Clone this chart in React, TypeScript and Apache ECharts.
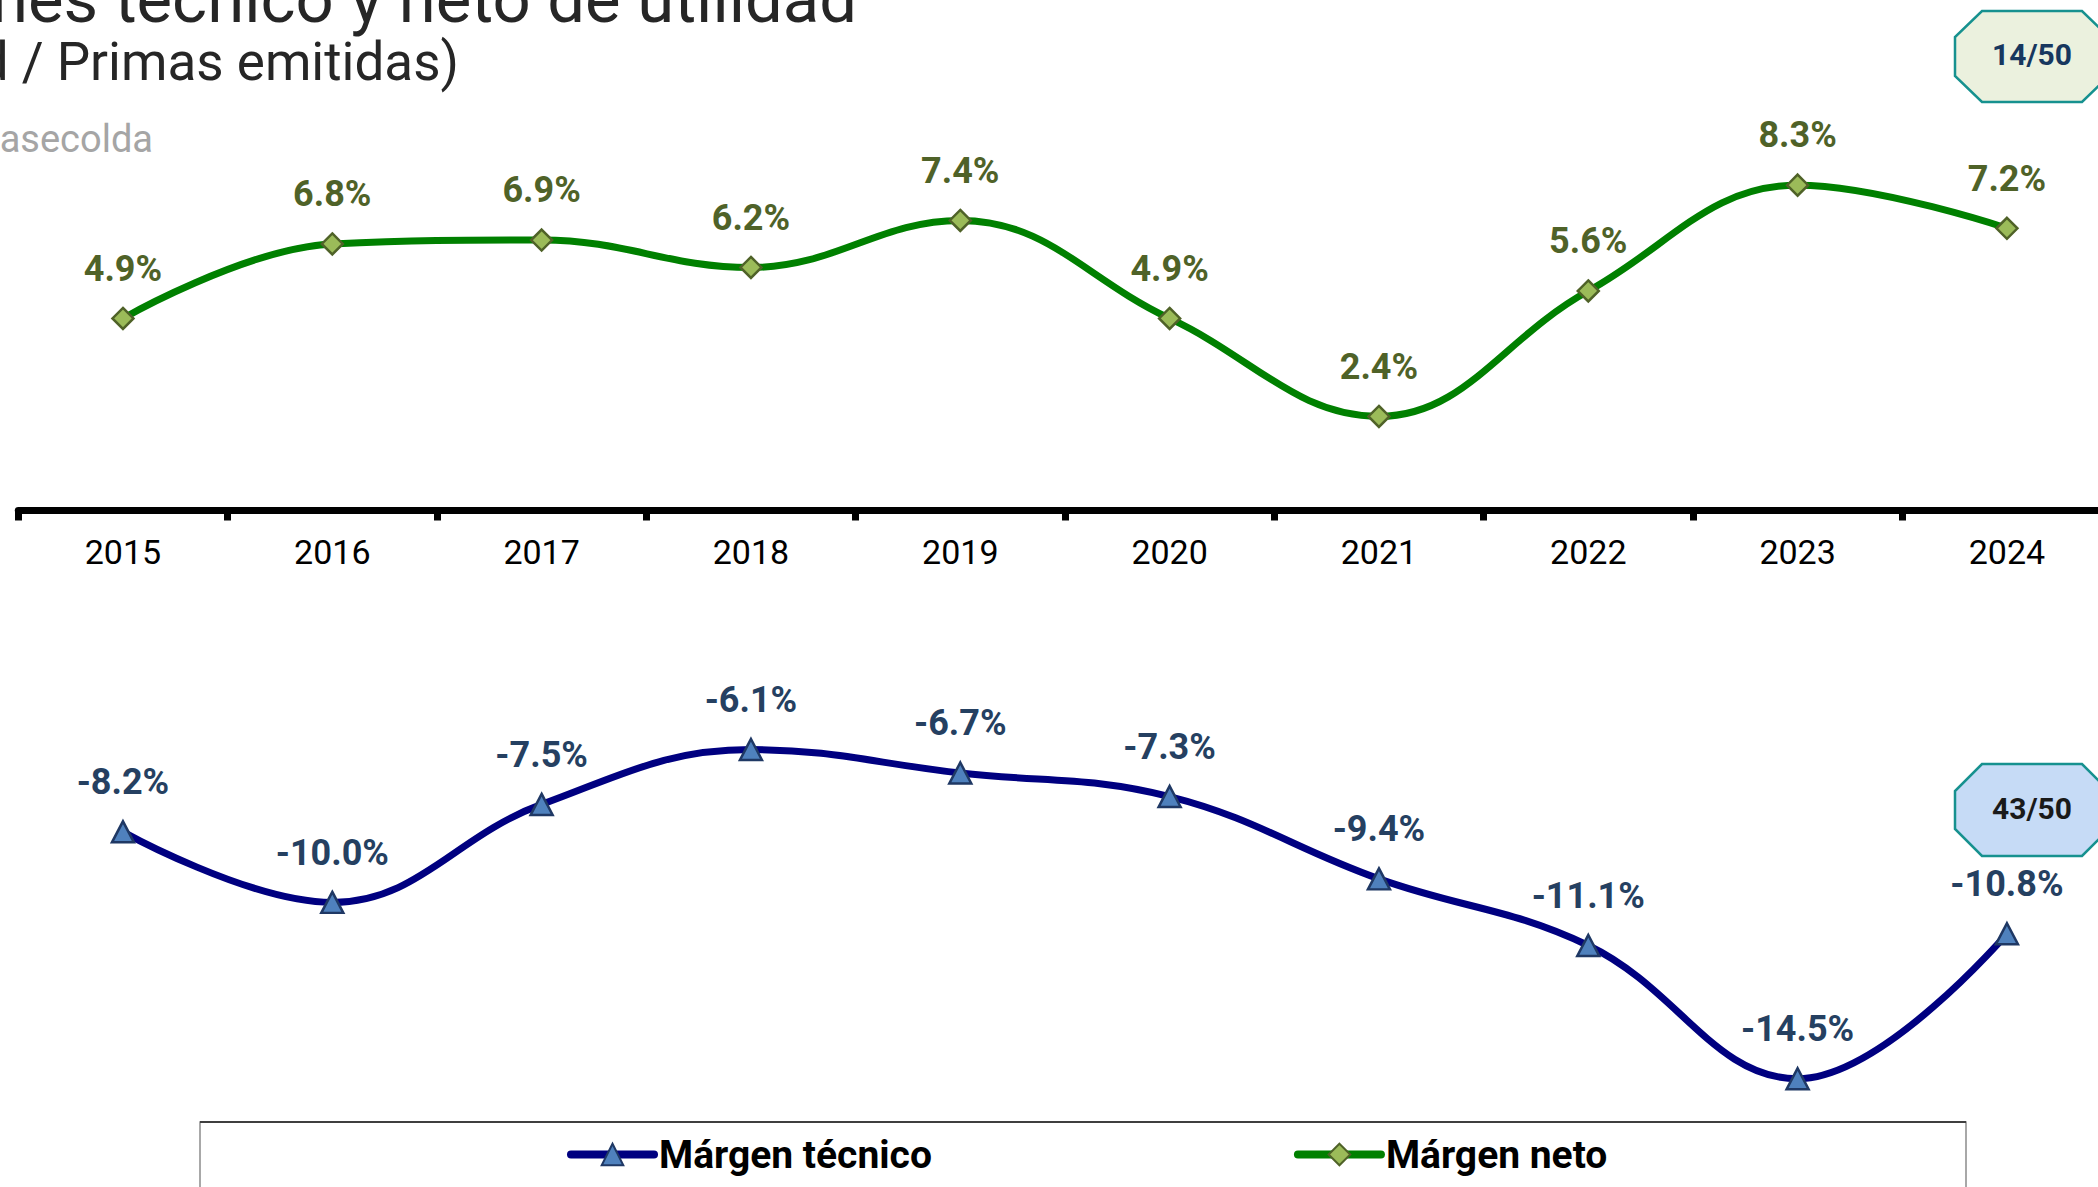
import React, { useEffect, useRef } from "react";
import * as echarts from "echarts";

const years = ["2015", "2016", "2017", "2018", "2019", "2020", "2021", "2022", "2023", "2024"];
const margenNeto = [4.9, 6.8, 6.9, 6.2, 7.4, 4.9, 2.4, 5.6, 8.3, 7.2];
const margenTecnico = [-8.2, -10.0, -7.5, -6.1, -6.7, -7.3, -9.4, -11.1, -14.5, -10.8];
const seriesNames = ["Márgen técnico", "Márgen neto"];
const titleLines = ["Márgenes técnico y neto de utilidad", "(Utilidad / Primas emitidas)", "Fuente: Fasecolda"];
const rankNeto = "14/50";
const rankTecnico = "43/50";

const FONT = "Roboto, 'Noto Sans', sans-serif";

function octagon(l: number, t: number, w: number, h: number, cx: number, cy: number) {
  const r = l + w;
  const b = t + h;
  return [
    [l + cx, t], [r - cx, t], [r, t + cy], [r, b - cy],
    [r - cx, b], [l + cx, b], [l, b - cy], [l, t + cy],
  ];
}

const labelFmt = (p: any) => `${Number(p.value).toFixed(1)}%`;

export default function App() {
  const ref = useRef<HTMLDivElement>(null);
  useEffect(() => {
    if (!ref.current) return;
    const chart = echarts.init(ref.current, null, { renderer: "svg" });
    const option: any = {
      animation: false,
      backgroundColor: "#ffffff",
      textStyle: { fontFamily: FONT },
      grid: [
        { left: 18.3, top: 118.5, width: 2093.3, height: 392, containLabel: false, outerBoundsMode: "none" },
        { left: 18.3, top: 510.5, width: 2093.3, height: 627, containLabel: false, outerBoundsMode: "none" },
      ],
      xAxis: [
        {
          type: "category",
          gridIndex: 0,
          data: years,
          boundaryGap: true,
          position: "bottom",
          axisLine: { onZero: false, lineStyle: { color: "#000000", width: 7 } },
          axisTick: { show: true, alignWithLabel: false, length: 10, lineStyle: { color: "#000000", width: 7 } },
          axisLabel: { color: "#000000", fontSize: 34, fontFamily: FONT, margin: 24 },
          splitLine: { show: false },
        },
        {
          type: "category",
          gridIndex: 1,
          data: years,
          boundaryGap: true,
          show: false,
        },
      ],
      yAxis: [
        { type: "value", gridIndex: 0, min: 0, max: 10, show: false, splitLine: { show: false } },
        { type: "value", gridIndex: 1, min: -16, max: 0, show: false, splitLine: { show: false } },
      ],
      legend: {
        data: seriesNames,
        left: 567,
        top: 1135,
        padding: 0,
        itemWidth: 83,
        itemHeight: 27,
        itemGap: 362,
        lineStyle: { width: 8, cap: "round" },
        textStyle: { fontSize: 39, fontWeight: "bold", color: "#000000", fontFamily: FONT },
      },
      series: [
        {
          name: seriesNames[0],
          type: "line",
          xAxisIndex: 1,
          yAxisIndex: 1,
          data: margenTecnico,
          smooth: 0.4,
          clip: false,
          symbol: "triangle",
          symbolSize: [22, 21],
          lineStyle: { color: "#000080", width: 7 },
          itemStyle: { color: "#4F81BD", borderColor: "#1F3864", borderWidth: 2.5 },
          label: {
            show: true,
            position: "top",
            distance: 20,
            formatter: labelFmt,
            fontSize: 36,
            fontWeight: "bold",
            color: "#254061",
            fontFamily: FONT,
          },
          z: 3,
        },
        {
          name: seriesNames[1],
          type: "line",
          xAxisIndex: 0,
          yAxisIndex: 0,
          data: margenNeto,
          smooth: 0.4,
          clip: false,
          symbol: "diamond",
          symbolSize: [21, 21],
          lineStyle: { color: "#008000", width: 7 },
          itemStyle: { color: "#9BBB59", borderColor: "#4F6228", borderWidth: 2.5 },
          label: {
            show: true,
            position: "top",
            distance: 20,
            formatter: labelFmt,
            fontSize: 36,
            fontWeight: "bold",
            color: "#4F6228",
            fontFamily: FONT,
          },
          z: 3,
        },
      ],
      graphic: [
        {
          type: "text",
          x: 857,
          y: -1,
          style: { text: titleLines[0], fontSize: 67, fontFamily: FONT, fill: "#262626", align: "right", verticalAlign: "middle" },
        },
        {
          type: "text",
          x: 459,
          y: 62,
          style: { text: titleLines[1], fontSize: 53, fontFamily: FONT, fill: "#262626", align: "right", verticalAlign: "middle" },
        },
        {
          type: "text",
          x: 153,
          y: 139,
          style: { text: titleLines[2], fontSize: 38, fontFamily: FONT, fill: "#A5A5A5", align: "right", verticalAlign: "middle" },
        },
        {
          type: "polygon",
          shape: { points: octagon(1955, 11, 154, 91, 27, 26) },
          style: { fill: "#EBF1DE", stroke: "#16918F", lineWidth: 2.5 },
        },
        {
          type: "text",
          x: 2032,
          y: 54,
          style: { text: rankNeto, fontSize: 30, fontWeight: "bold", fontFamily: FONT, fill: "#17375E", align: "center", verticalAlign: "middle" },
        },
        {
          type: "polygon",
          shape: { points: octagon(1955, 764, 154, 92, 27, 27) },
          style: { fill: "#C6DBF6", stroke: "#16918F", lineWidth: 2.5 },
        },
        {
          type: "text",
          x: 2032,
          y: 808,
          style: { text: rankTecnico, fontSize: 30, fontWeight: "bold", fontFamily: FONT, fill: "#1a1a1a", align: "center", verticalAlign: "middle" },
        },
        {
          type: "rect",
          shape: { x: 200, y: 1122, width: 1766, height: 100 },
          style: { fill: "none", stroke: "#8c8c8c", lineWidth: 1.5 },
          z: -1,
        },
        {
          type: "line",
          shape: { x1: 200, y1: 1122, x2: 1966, y2: 1122 },
          style: { stroke: "#3f3f3f", lineWidth: 2 },
          z: -1,
        },
      ],
    };
    chart.setOption(option);
    return () => chart.dispose();
  }, []);
  return (
    <div style={{ position: "fixed", left: 0, top: 0, width: 2098, height: 1187, overflow: "hidden", background: "#fff" }}>
      <div ref={ref} style={{ width: 2120, height: 1187 }} />
    </div>
  );
}
